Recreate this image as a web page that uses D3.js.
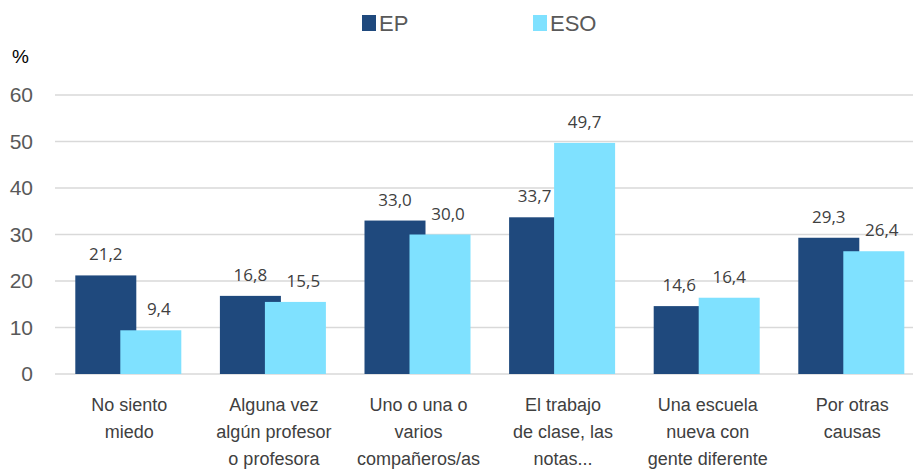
<!DOCTYPE html>
<html>
<head>
<meta charset="utf-8">
<script src="https://cdn.jsdelivr.net/npm/d3@7"></script>
<style>
  body { margin: 0; background: #fff; }
</style>
</head>
<body>
<div id="chart"></div>
<script>
// chart data
const categories = [
    ["No siento", "miedo"],
    ["Alguna vez", "algún profesor", "o profesora"],
    ["Uno o una o", "varios", "compañeros/as"],
    ["El trabajo", "de clase, las", "notas..."],
    ["Una escuela", "nueva con", "gente diferente"],
    ["Por otras", "causas"]
];
const seriesNames = ["EP", "ESO"];
const epValues = [21.2, 16.8, 33.0, 33.7, 14.6, 29.3];
const esoValues = [9.4, 15.5, 30.0, 49.7, 16.4, 26.4];
const yTicks = [0, 10, 20, 30, 40, 50, 60];

const colors = {EP: "#1f497d", ESO: "#7fe1ff"};
const font = "'Liberation Sans', Arial, sans-serif";

const width = 913, height = 470;
const svg = d3.select("#chart").append("svg")
    .attr("width", width)
    .attr("height", height);

// x band per category, y linear in percent
const xScale = d3.scaleBand()
    .domain(d3.range(categories.length))
    .range([57, 57 + 144.6 * categories.length])
    .padding(0);

const yScale = d3.scaleLinear()
    .domain([0, 60])
    .range([374, 95]);

// grid lines
svg.append("g")
    .selectAll("line")
    .data(yTicks)
    .enter()
    .append("line")
        .attr("x1", 55)
        .attr("x2", width)
        .attr("y1", d => yScale(d))
        .attr("y2", d => yScale(d))
        .attr("stroke", "#d9d9d9")
        .attr("stroke-width", 1.5);

// y tick labels
svg.append("g")
    .selectAll("text")
    .data(yTicks)
    .enter()
    .append("text")
        .attr("x", 33)
        .attr("y", d => yScale(d) + 7)
        .attr("text-anchor", "end")
        .attr("font-family", font)
        .attr("font-size", "21px")
        .attr("fill", "#595959")
        .text(d => d);

svg.append("text")
    .attr("x", 12)
    .attr("y", 63)
    .attr("font-family", font)
    .attr("font-size", "19px")
    .attr("fill", "#000")
    .text("%");

// bars overlap a bit, ESO drawn on top
const barW = 61;
const offsets = {EP: -54, ESO: -9};
const rows = [
    {name: "EP", values: epValues, other: esoValues, nudge: -5},
    {name: "ESO", values: esoValues, other: epValues, nudge: 8}
];

rows.forEach(row => {
    const g = svg.append("g");
    g.selectAll("rect")
        .data(row.values)
        .enter()
        .append("rect")
            .attr("x", (d, i) => xScale(i) + xScale.bandwidth() / 2 + offsets[row.name])
            .attr("y", d => yScale(d))
            .attr("width", barW)
            .attr("height", d => yScale(0) - yScale(d))
            .attr("fill", colors[row.name]);
});

// the label of the shorter bar is pushed outward a little
rows.forEach(row => {
    svg.append("g")
        .selectAll("text")
        .data(row.values)
        .enter()
        .append("text")
            .attr("x", (d, i) => xScale(i) + xScale.bandwidth() / 2 + offsets[row.name] + barW / 2
                                 + (d < row.other[i] ? row.nudge : 0))
            .attr("y", d => yScale(d) - 15)
            .attr("text-anchor", "middle")
            .attr("font-family", "'Open Sans', sans-serif")
            .attr("font-size", "17px")
            .attr("fill", "#404040")
            .text(d => d.toFixed(1).replace(".", ","));
});

// category labels
const labels = svg.append("g")
    .selectAll("text")
    .data(categories)
    .enter()
    .append("text")
        .attr("text-anchor", "middle")
        .attr("font-family", font)
        .attr("font-size", "18px")
        .attr("fill", "#404040");

labels.selectAll("tspan")
    .data((d, i) => d.map(line => ({line: line, i: i})))
    .enter()
    .append("tspan")
        .attr("x", d => xScale(d.i) + xScale.bandwidth() / 2)
        .attr("y", (d, j) => 411 + j * 27)
        .text(d => d.line);

// legend
const legendX = {EP: 362, ESO: 533};
seriesNames.forEach(name => {
    svg.append("rect")
        .attr("x", legendX[name])
        .attr("y", 15)
        .attr("width", 14)
        .attr("height", 16)
        .attr("fill", colors[name]);
    svg.append("text")
        .attr("x", legendX[name] + 17)
        .attr("y", 31)
        .attr("font-family", font)
        .attr("font-size", "22px")
        .attr("fill", "#595959")
        .text(name);
});
</script>
</body>
</html>
